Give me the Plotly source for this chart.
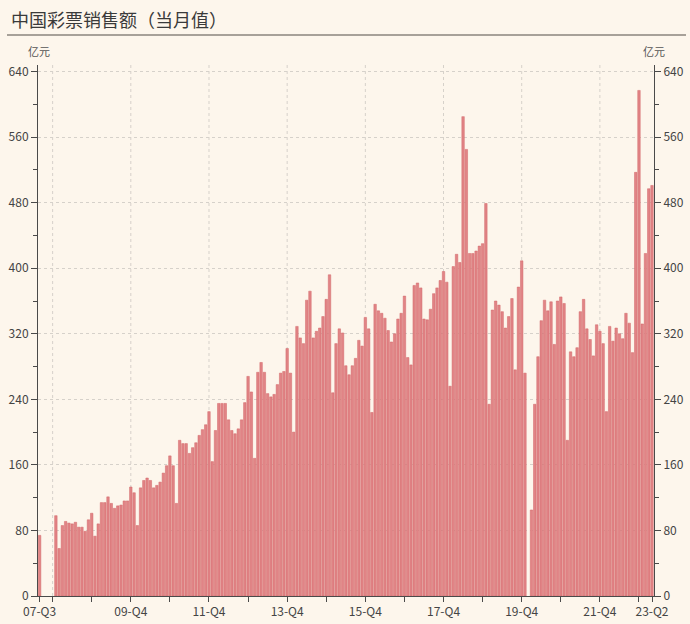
import plotly.graph_objects as go
import pandas as pd

# ---- data (亿元, monthly) ----
months = pd.period_range("2007-08", "2023-04", freq="M").strftime("%Y-%m").tolist()

sales_2007 = [74, None, None, None, None]          # Aug-Dec 2007
sales_2008 = [98, 58, 86, 91, 89, 88, 90, 84, 84, 79, 93, 101]
sales_2009 = [73, 88, 114, 114, 121, 113, 107, 110, 111, 116, 116, 133]
sales_2010 = [126, 86, 132, 141, 144, 141, 132, 135, 139, 150, 159, 171]
sales_2011 = [159, 113, 190, 186, 186, 174, 181, 187, 196, 203, 209, 225]
sales_2012 = [164, 202, 235, 235, 235, 215, 202, 198, 204, 215, 236, 268]
sales_2013 = [249, 168, 273, 285, 273, 247, 243, 246, 258, 272, 274, 302]
sales_2014 = [272, 200, 329, 315, 308, 361, 372, 315, 323, 327, 341, 362]
sales_2015 = [392, 248, 308, 326, 321, 281, 270, 281, 290, 312, 305, 340]
sales_2016 = [326, 224, 356, 348, 345, 339, 324, 310, 320, 338, 345, 366]
sales_2017 = [291, 282, 379, 382, 376, 338, 337, 350, 369, 376, 385, 396]
sales_2018 = [383, 256, 402, 417, 407, 585, 545, 418, 418, 421, 427, 430]
sales_2019 = [479, 234, 349, 360, 355, 347, 327, 341, 363, 276, 377, 409]
sales_2020 = [272, None, 105, 234, 292, 336, 361, 348, 359, 307, 360, 365]
sales_2021 = [357, 190, 298, 292, 303, 347, 362, 326, 313, 293, 331, 323]
sales_2022 = [308, 225, 329, 311, 327, 320, 314, 345, 333, 297, 517, 617]
sales_2023 = [332, 418, 497, 501]

sales = (sales_2007 + sales_2008 + sales_2009 + sales_2010 + sales_2011 + sales_2012
         + sales_2013 + sales_2014 + sales_2015 + sales_2016 + sales_2017 + sales_2018
         + sales_2019 + sales_2020 + sales_2021 + sales_2022 + sales_2023)

label_months = ["2007-08", "2009-12", "2011-12", "2013-12", "2015-12",
                "2017-12", "2019-12", "2021-12", "2023-04"]
label_texts = ["07-Q3", "09-Q4", "11-Q4", "13-Q4", "15-Q4",
               "17-Q4", "19-Q4", "21-Q4", "23-Q2"]
y_ticks = [0, 80, 160, 240, 320, 400, 480, 560, 640]

title_text = "中国彩票销售额（当月值）"
unit_text = "亿元"

# ---- layout constants ----
W, H = 690, 624
ML, MR, MT, MB = 38, 36, 65, 28
BG = "#fdf6ec"
FONT = "Noto Sans CJK SC"
AXC = "#4a4a4a"
GRID = "#d6d1ca"

idx = list(range(len(months)))
pos = {m: i for i, m in enumerate(months)}
dec_pos = [i for i, m in enumerate(months) if m.endswith("-12")]
tickvals = sorted(set(dec_pos + [pos[m] for m in label_months]))
ticktext = [label_texts[label_months.index(months[v])] if months[v] in label_months else ""
            for v in tickvals]
grid_pos = [p for p in dec_pos if int(months[p][:4]) % 2 == 1 and p < len(months) - 2]

fig = go.Figure()
fig.add_trace(go.Bar(
    x=idx, y=sales,
    marker=dict(color="#e18486", line=dict(color="#d26769", width=0.5)),
    hovertext=months, showlegend=False,
))
fig.add_trace(go.Scatter(x=[None], y=[None], yaxis="y2", showlegend=False, hoverinfo="skip"))

yaxis_common = dict(
    range=[0, 648], tickvals=y_ticks, ticks="outside", ticklen=6, tickcolor=AXC,
    showline=True, linecolor=AXC, linewidth=1, zeroline=False, automargin=False,
    tickfont=dict(family=FONT, size=12, color="#444444"),
    minor=dict(dtick=40, tick0=0, ticks="outside", ticklen=4, tickcolor=AXC, showgrid=False),
)

fig.update_layout(
    width=W, height=H,
    margin=dict(l=ML, r=MR, t=MT, b=MB, autoexpand=False),
    paper_bgcolor=BG, plot_bgcolor=BG,
    bargap=0.24,
    font=dict(family=FONT, color="#444444"),
    xaxis=dict(
        range=[-0.49, len(months) - 1 + 0.61], tickvals=tickvals, ticktext=ticktext,
        ticks="outside", ticklen=5, tickcolor=AXC, showline=True, linecolor=AXC,
        linewidth=1, showgrid=False, zeroline=False, automargin=False,
        tickfont=dict(family=FONT, size=12, color="#444444"),
    ),
    yaxis=dict(**yaxis_common, side="left", showgrid=True, gridcolor=GRID,
               griddash="3px,3px", gridwidth=1),
    yaxis2=dict(**yaxis_common, side="right", overlaying="y", showgrid=False),
)

# vertical dashed gridlines
for p in grid_pos:
    fig.add_shape(type="line", xref="x", yref="paper", x0=p, x1=p, y0=0, y1=1,
                  line=dict(color=GRID, width=1, dash="3px,3px"), layer="below")

pw, ph = W - ML - MR, H - MT - MB
def px_x(x):
    return (x - ML) / pw
def px_y(y):
    return 1 - (y - MT) / ph

# title
fig.add_annotation(text=title_text, xref="paper", yref="paper",
                   x=px_x(9), y=px_y(19), showarrow=False,
                   xanchor="left", yanchor="middle",
                   font=dict(family=FONT, size=18, color="#3a3a3a"))
# title rule
fig.add_shape(type="line", xref="paper", yref="paper",
              x0=px_x(7), x1=px_x(686), y0=px_y(35), y1=px_y(35),
              line=dict(color="#8a847e", width=1.5))

# unit labels
for xp in (38.5, 653.5):
    fig.add_annotation(text=unit_text, xref="paper", yref="paper",
                       x=px_x(xp), y=px_y(51), showarrow=False,
                       xanchor="center", yanchor="middle",
                       font=dict(family=FONT, size=11, color="#555555"))

fig.write_html("out.html", config={"displayModeBar": False},
               post_script="document.body.style.margin='0';document.body.style.overflow='hidden';document.body.style.background='%s';" % BG)
